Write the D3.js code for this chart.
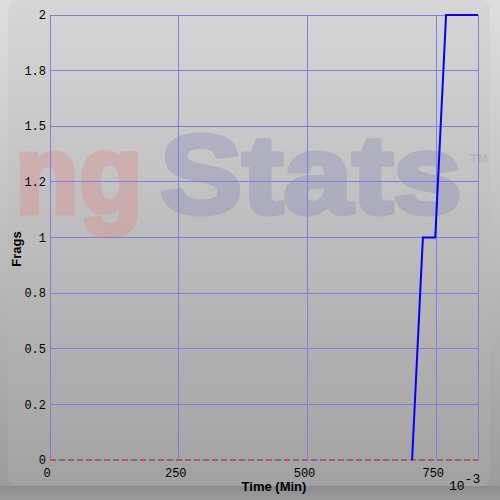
<!DOCTYPE html>
<html>
<head>
<meta charset="utf-8">
<script src="https://cdn.jsdelivr.net/npm/d3@7.9.0/dist/d3.min.js"></script>
<style>
  html, body { margin: 0; padding: 0; background: #a8a8a8; }
  svg { display: block; }
  .tick-label { font-family: 'Liberation Mono', 'DejaVu Sans Mono', monospace; font-size: 12px; fill: #000; }
  .title { font-family: 'Liberation Sans', Arial, sans-serif; font-size: 13px; font-weight: bold; fill: #000; }
</style>
</head>
<body>
<svg width="500" height="500"></svg>
<script>
// frags over time (time in 10^-3 min)
const times = [703, 724, 748, 769, 831];
const frags = [0, 1, 1, 2, 2];
const xTicks = [0, 250, 500, 750];
const yTicks = [0, 0.25, 0.5, 0.75, 1, 1.25, 1.5, 1.75, 2];
const yTickLabels = ['0', '0.2', '0.5', '0.8', '1', '1.2', '1.5', '1.8', '2'];

const svg = d3.select('svg');
const margin = { left: 50, right: 22, top: 15, bottom: 40 };
const width = 500, height = 500;

const x = d3.scaleLinear().domain([0, 831]).range([margin.left, width - margin.right]);
const y = d3.scaleLinear().domain([0, 2]).range([height - margin.bottom, margin.top]);

const defs = svg.append('defs');
const outer = defs.append('linearGradient').attr('id', 'outer')
  .attr('x1', 0).attr('y1', 0).attr('x2', 0).attr('y2', 1);
outer.append('stop').attr('offset', '0%').attr('stop-color', '#dedede');
outer.append('stop').attr('offset', '100%').attr('stop-color', '#9a9a9a');

const inner = defs.append('linearGradient').attr('id', 'inner')
  .attr('x1', 0).attr('y1', 0).attr('x2', 0).attr('y2', 1);
inner.append('stop').attr('offset', '0%').attr('stop-color', '#d6d6d6');
inner.append('stop').attr('offset', '100%').attr('stop-color', '#a2a2a2');

const shadow = defs.append('linearGradient').attr('id', 'shadow')
  .attr('x1', 0).attr('y1', 0).attr('x2', 0).attr('y2', 1);
shadow.append('stop').attr('offset', '0%').attr('stop-color', '#8c8c8c');
shadow.append('stop').attr('offset', '100%').attr('stop-color', '#9c9c9c');

// frame
svg.append('rect').attr('width', width).attr('height', height).attr('fill', 'url(#outer)');
svg.append('rect').attr('x', 0).attr('y', 486).attr('width', width).attr('height', 14)
  .attr('fill', 'url(#shadow)');
svg.append('rect').attr('x', 8).attr('y', 0).attr('width', 482).attr('height', 486)
  .attr('rx', 10).attr('fill', 'url(#inner)');

// watermark (thickened with a stroke, faded as a group)
const wmFont = "'Liberation Sans', Arial, sans-serif";
const wmNg = svg.append('g').attr('opacity', 0.32);
wmNg.append('text').attr('x', 15).attr('y', 213).text('ng')
  .attr('textLength', 128).attr('lengthAdjust', 'spacingAndGlyphs')
  .style('font-family', wmFont).style('font-weight', 'bold').style('font-size', '112px')
  .attr('fill', '#e08484').attr('stroke', '#e08484').attr('stroke-width', 5).attr('stroke-linejoin', 'round');
const wmStats = svg.append('g').attr('opacity', 0.3);
wmStats.append('text').attr('x', 160).attr('y', 213).text('Stats')
  .attr('textLength', 302).attr('lengthAdjust', 'spacingAndGlyphs')
  .style('font-family', wmFont).style('font-weight', 'bold').style('font-size', '112px')
  .attr('fill', '#8080b4').attr('stroke', '#8080b4').attr('stroke-width', 5).attr('stroke-linejoin', 'round');
svg.append('text').attr('x', 470).attr('y', 163).text('TM')
  .attr('textLength', 18).attr('lengthAdjust', 'spacingAndGlyphs')
  .style('font-family', wmFont).style('font-weight', 'bold').style('font-size', '12px')
  .attr('fill', '#b4b4c2');

// grid
const grid = svg.append('g').attr('stroke', '#8080dc').attr('stroke-width', 1).attr('shape-rendering', 'crispEdges');
yTicks.filter(d => d > 0).forEach(t => {
  grid.append('line').attr('x1', x(0)).attr('x2', x(831)).attr('y1', y(t)).attr('y2', y(t));
});
xTicks.concat([831]).forEach(t => {
  grid.append('line').attr('x1', x(t)).attr('x2', x(t)).attr('y1', y(0)).attr('y2', y(2));
});

// zero line
svg.append('line').attr('x1', x(0)).attr('x2', x(831)).attr('y1', y(0)).attr('y2', y(0))
  .attr('stroke', '#2fd0c8').attr('stroke-width', 1.5).attr('shape-rendering', 'crispEdges');
svg.append('line').attr('x1', x(0)).attr('x2', x(831)).attr('y1', y(0)).attr('y2', y(0))
  .attr('stroke', '#d84860').attr('stroke-width', 1.5).attr('stroke-dasharray', '6,3')
  .attr('shape-rendering', 'crispEdges');

// data line
const line = d3.line().x((d, i) => x(times[i])).y(d => y(d));
svg.append('path').datum(frags).attr('d', line)
  .attr('fill', 'none').attr('stroke', '#0000ff').attr('stroke-width', 2);

// tick labels
yTicks.forEach((t, i) => {
  svg.append('text').attr('class', 'tick-label')
    .attr('x', 46).attr('y', y(t)).attr('dy', '0.35em')
    .attr('text-anchor', 'end').text(yTickLabels[i]);
});
xTicks.forEach(t => {
  svg.append('text').attr('class', 'tick-label')
    .attr('x', x(t) - 3).attr('y', y(0) + 17)
    .attr('text-anchor', 'middle').text(t);
});

// titles
svg.append('text').attr('class', 'title').attr('x', 274).attr('y', 491)
  .attr('text-anchor', 'middle').text('Time (Min)');
svg.append('text').attr('class', 'title')
  .attr('transform', 'translate(21,249) rotate(-90)')
  .attr('text-anchor', 'middle').text('Frags');
const exp = svg.append('text').attr('class', 'tick-label').attr('x', 449).attr('y', 490).style('font-size', '13px');
exp.append('tspan').text('10');
exp.append('tspan').text('-3').attr('dy', -7);
</script>
</body>
</html>
